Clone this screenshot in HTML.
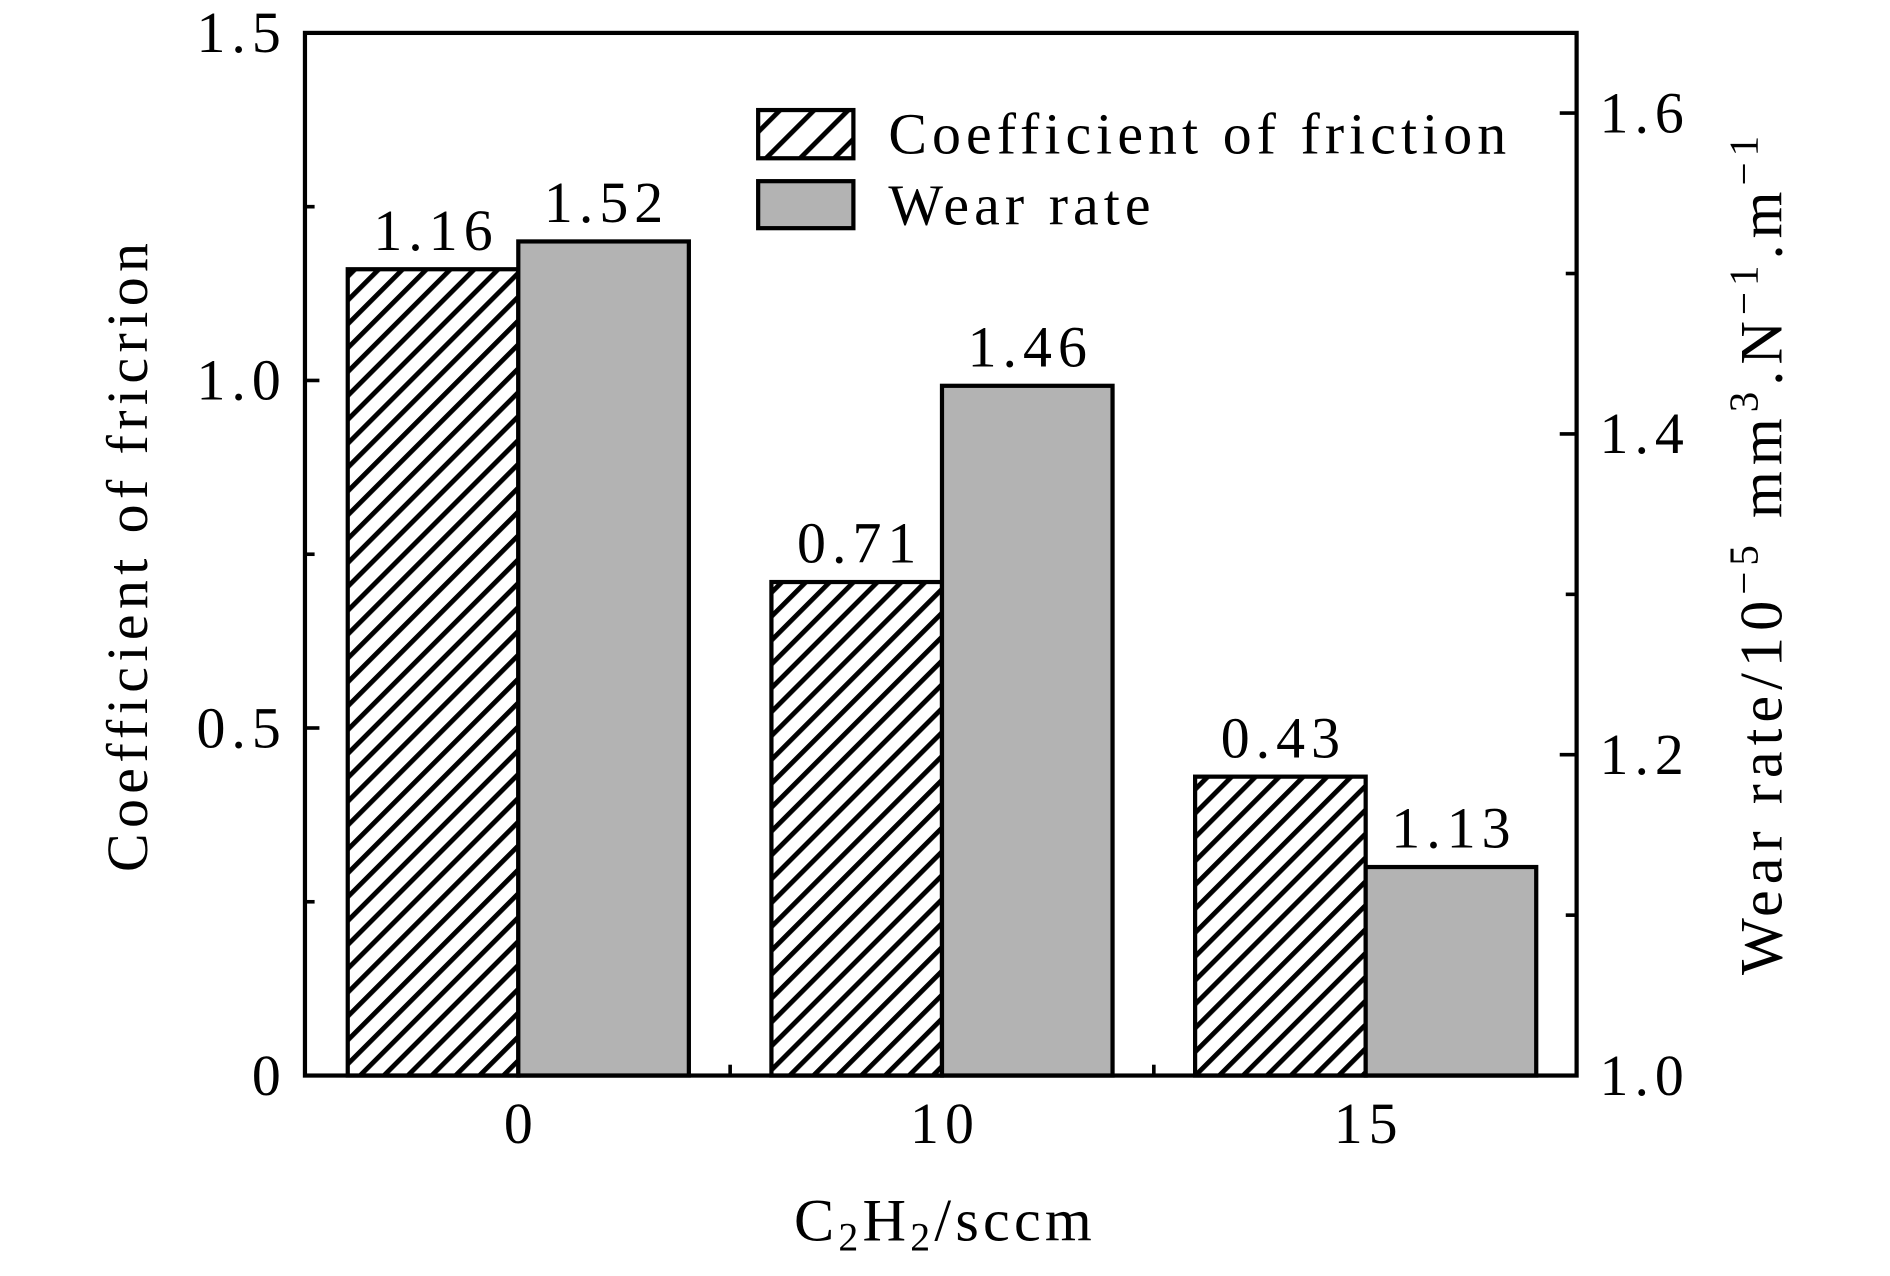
<!DOCTYPE html>
<html><head><meta charset="utf-8"><style>
html,body{margin:0;padding:0;background:#fff;}
svg{display:block;}
text{font-family:"Liberation Serif",serif;fill:#000;}
</style></head><body>
<svg id="chart" width="1890" height="1276" viewBox="0 0 1568 1058" xmlns="http://www.w3.org/2000/svg">
<defs>
<pattern id="hatch" patternUnits="userSpaceOnUse" width="14" height="14" patternTransform="rotate(45)">
<rect width="14" height="14" fill="#fff"/>
<line x1="0" y1="0" x2="0" y2="14" stroke="#000" stroke-width="8"/>
</pattern>
<pattern id="hatchL" patternUnits="userSpaceOnUse" width="20" height="20" patternTransform="rotate(45)">
<rect width="20" height="20" fill="#fff"/>
<line x1="0" y1="0" x2="0" y2="20" stroke="#000" stroke-width="8"/>
</pattern>
</defs>
<g id="bars"></g>
<g id="axes"></g>
<g id="legend">
<rect x="629" y="91" width="79" height="40" fill="url(#hatchL)" stroke="#000" stroke-width="3.5"/>
<text x="737" y="127" font-size="48" letter-spacing="4.2">Coefficient of friction</text>
<rect x="629" y="150" width="79" height="39" fill="#b3b3b3" stroke="#000" stroke-width="3.5"/>
<text x="737" y="186" font-size="48" letter-spacing="4.2">Wear rate</text>
</g>
<text x="784" y="1029" font-size="50" letter-spacing="3.5" text-anchor="middle">C<tspan font-size="33" dy="8">2</tspan><tspan dy="-8">H</tspan><tspan font-size="33" dy="8">2</tspan><tspan dy="-8">/sccm</tspan></text>
<text transform="translate(122,460) rotate(-90)" font-size="48" letter-spacing="4.5" text-anchor="middle">Coefficient of fricrion</text>
<text transform="translate(1478,458) rotate(-90)" font-size="50" letter-spacing="5" text-anchor="middle">Wear rate/10<tspan font-size="34" dy="-20">−5</tspan><tspan dy="20"> mm</tspan><tspan font-size="34" dy="-20">3</tspan><tspan dy="20">.N</tspan><tspan font-size="34" dy="-20">−1</tspan><tspan dy="20">.m</tspan><tspan font-size="34" dy="-20">−1</tspan></text>
</svg>
<script>
const categories = ["0", "10", "15"];
const frictionValues = [1.16, 0.71, 0.43];
const wearValues = [1.52, 1.43, 1.13];
const frictionLabels = ["1.16", "0.71", "0.43"];
const wearLabels = ["1.52", "1.46", "1.13"];
const leftTicks = [0, 0.5, 1.0, 1.5];
const leftTickLabels = ["0", "0.5", "1.0", "1.5"];
const leftMinor = [0.25, 0.75, 1.25];
const rightTicks = [1.0, 1.2, 1.4, 1.6];
const rightTickLabels = ["1.0", "1.2", "1.4", "1.6"];
const rightMinor = [1.1, 1.3, 1.5];

const NS = "http://www.w3.org/2000/svg";
const L = 253, R = 1308, T = 27, B = 892;
function yL(v){ return B - (v - 0) / (1.5 - 0) * (B - T); }
function yR(v){ return B - (v - 1.0) / (1.65 - 1.0) * (B - T); }
function xC(i){ return L + 177 + i * 351.5; }
const bw = 141.5;
const FS = 48, LS = 5;

function mk(tag, attrs, parent){
  const e = document.createElementNS(NS, tag);
  for (const k in attrs) e.setAttribute(k, attrs[k]);
  parent.appendChild(e);
  return e;
}
const bars = document.getElementById('bars');
const axes = document.getElementById('axes');

categories.forEach((c, i) => {
  const cx = xC(i);
  const yf = yL(frictionValues[i]);
  const r1 = mk('rect', {x: cx - bw, y: yf, width: bw, height: B - yf, fill: 'url(#hatch)', stroke: '#000', 'stroke-width': 3.5}, bars);
  
  
  const yw = yR(wearValues[i]);
  const r2 = mk('rect', {x: cx, y: yw, width: bw, height: B - yw, fill: '#b3b3b3', stroke: '#000', 'stroke-width': 3.5}, bars);
  
  
  const t1 = mk('text', {x: cx - bw / 2 + LS / 2, y: yf - 16, 'font-size': FS, 'letter-spacing': LS, 'text-anchor': 'middle'}, bars);
  t1.textContent = frictionLabels[i];
  
  
  const t2 = mk('text', {x: cx + bw / 2 + LS / 2, y: yw - 16, 'font-size': FS, 'letter-spacing': LS, 'text-anchor': 'middle'}, bars);
  t2.textContent = wearLabels[i];
  
  
  const xl = mk('text', {x: cx + LS / 2, y: 948, 'font-size': FS, 'letter-spacing': LS, 'text-anchor': 'middle'}, axes);
  xl.textContent = c;
  
  
  if (i > 0) {
    const tk = mk('line', {x1: cx - 175.75, x2: cx - 175.75, y1: B, y2: B - 9, stroke: '#000', 'stroke-width': 3}, axes);
    
    
  }
});

const frame = mk('rect', {x: L, y: T, width: R - L, height: B - T, fill: 'none', stroke: '#000', 'stroke-width': 3.5}, axes);



leftTicks.forEach((v, i) => {
  const y = yL(v);
  const ln = mk('line', {x1: L, x2: L + 12, y1: y, y2: y, stroke: '#000', 'stroke-width': 3}, axes);
  
  
  const t = mk('text', {x: 238, y: y + 16, 'font-size': FS, 'letter-spacing': LS, 'text-anchor': 'end'}, axes);
  t.textContent = leftTickLabels[i];
  
  
});
leftMinor.forEach(v => {
  const y = yL(v);
  const ln = mk('line', {x1: L, x2: L + 8, y1: y, y2: y, stroke: '#000', 'stroke-width': 3}, axes);
  
  
});
rightTicks.forEach((v, i) => {
  const y = yR(v);
  const ln = mk('line', {x1: R - 14, x2: R, y1: y, y2: y, stroke: '#000', 'stroke-width': 3}, axes);
  
  
  const t = mk('text', {x: 1327, y: y + 16, 'font-size': FS, 'letter-spacing': LS, 'text-anchor': 'start'}, axes);
  t.textContent = rightTickLabels[i];
  
  
});
rightMinor.forEach(v => {
  const y = yR(v);
  const ln = mk('line', {x1: R - 9, x2: R, y1: y, y2: y, stroke: '#000', 'stroke-width': 3}, axes);
  
  
});
</script>
</body></html>
